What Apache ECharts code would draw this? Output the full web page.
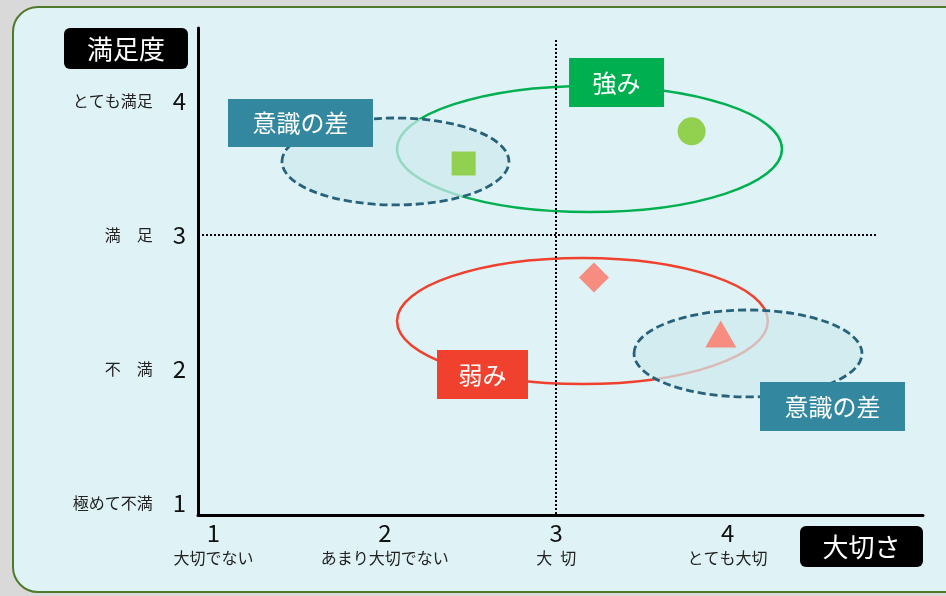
<!DOCTYPE html>
<html>
<head>
<meta charset="utf-8">
<script src="https://cdn.jsdelivr.net/npm/echarts@6/dist/echarts.min.js"></script>
<style>
  html, body { margin: 0; padding: 0; background: #d9d9d9; overflow: hidden; }
  #wrap { position: relative; width: 946px; height: 596px; overflow: hidden; }
  #panel {
    position: absolute; left: 12px; top: 6px; width: 980px; height: 587px;
    background: #dff3f6; border: 2px solid #4f7a2c; border-radius: 26px; box-sizing: border-box;
  }
  #chart { position: absolute; left: 0; top: 0; width: 946px; height: 596px; }
</style>
</head>
<body>
<div id="wrap">
  <div id="panel"></div>
  <div id="chart"></div>
</div>
<script>
// Tick values and their descriptions
const xTicks = [1, 2, 3, 4];
const xTickNames = ['大切でない', 'あまり大切でない', '大\u2002切', 'とても大切'];
const yTicks = [1, 2, 3, 4];
const yTickNames = ['極めて不満', '不　満', '満　足', 'とても満足'];

// Items as [importance, satisfaction]
const strongCircle = [[3.79, 3.77]];
const strongSquare = [[2.46, 3.53]];
const weakDiamond = [[3.22, 2.68]];
const weakTriangle = [[3.96, 2.26]];

// Group outlines: [centre x, centre y, radius x, radius y] in axis units
const strongZone = [[3.194, 3.638, 1.123, 0.470]];
const weakZone = [[3.153, 2.356, 1.082, 0.470]];
const gapZones = [
  [2.062, 3.545, 0.662, 0.324],
  [4.119, 2.114, 0.665, 0.324]
];

// Tags placed on the plane
const tagNames = ['強み', '弱み', '意識の差', '意識の差'];
const tagX = [3.352, 2.570, 1.508, 4.612];
const tagY = [4.134, 1.957, 3.832, 1.719];

// Quadrant dividers (axis units)
const midX = 3;
const midY = 3;

const tagStyles = [
  { color: '#00b050', size: [95, 49] },
  { color: '#ef412d', size: [91, 49] },
  { color: '#33879e', size: [145, 48] },
  { color: '#33879e', size: [145, 49] }
];

const JP = '"Noto Sans CJK JP", "Noto Sans", sans-serif';
const X_MIN = 0.91, X_MAX = 5.14, Y_MIN = 0.91, Y_MAX = 4.54;

function ellipseRenderer(style) {
  return function (params, api) {
    const c = api.coord([api.value(0), api.value(1)]);
    const s = api.size([api.value(2), api.value(3)]);
    return {
      type: 'ellipse',
      shape: { cx: c[0], cy: c[1], rx: s[0], ry: s[1] },
      style: style
    };
  };
}

const chart = echarts.init(document.getElementById('chart'), null, { renderer: 'canvas' });

chart.setOption({
  backgroundColor: 'transparent',
  animation: false,
  textStyle: { fontFamily: JP },
  grid: { left: 198, right: 23, top: 28, bottom: 81 },
  xAxis: {
    type: 'value', min: X_MIN, max: X_MAX,
    splitLine: { show: false },
    axisTick: { show: false },
    axisLine: { lineStyle: { color: '#000', width: 3 } },
    axisLabel: {
      customValues: xTicks,
      margin: 4,
      formatter: function (v) {
        return '{n|' + v + '}\n{t|' + xTickNames[xTicks.indexOf(v)] + '}';
      },
      rich: {
        n: { fontSize: 24, lineHeight: 28, color: '#111', fontFamily: JP },
        t: { fontSize: 16, lineHeight: 22, color: '#222', fontFamily: JP }
      }
    }
  },
  yAxis: {
    type: 'value', min: Y_MIN, max: Y_MAX,
    splitLine: { show: false },
    axisTick: { show: false },
    axisLine: { lineStyle: { color: '#000', width: 3 } },
    axisLabel: {
      customValues: yTicks,
      margin: 12,
      formatter: function (v) {
        return '{t|' + yTickNames[yTicks.indexOf(v)] + '}{n|' + v + '}';
      },
      rich: {
        t: { fontSize: 16, color: '#222', padding: [0, 20, 0, 0], fontFamily: JP },
        n: { fontSize: 24, color: '#111', fontFamily: JP }
      }
    }
  },
  graphic: [
    {
      type: 'group',
      children: [
        { type: 'rect', shape: { x: 64, y: 28, width: 124, height: 41, r: 6 }, style: { fill: '#000' } },
        { type: 'text', x: 126, y: 49, style: { text: '満足度', fill: '#fff', font: '26px ' + JP, align: 'center', verticalAlign: 'middle' } }
      ]
    },
    {
      type: 'group',
      children: [
        { type: 'rect', shape: { x: 800, y: 526, width: 123, height: 41, r: 6 }, style: { fill: '#000' } },
        { type: 'text', x: 861.5, y: 547, style: { text: '大切さ', fill: '#fff', font: '26px ' + JP, align: 'center', verticalAlign: 'middle' } }
      ]
    }
  ],
  series: [
    {
      // quadrant dividers
      type: 'line', data: [], z: 1, silent: true,
      markLine: {
        silent: true, symbol: ['none', 'none'], animation: false,
        label: { show: false },
        lineStyle: { color: '#000', width: 2, type: [2, 2] },
        data: [
          [{ coord: [midX, 4.45] }, { coord: [midX, Y_MIN] }],
          [{ coord: [X_MIN, midY] }, { coord: [4.877, midY] }]
        ]
      }
    },
    {
      type: 'custom', z: 2, silent: true,
      encode: { x: 0, y: 1 },
      renderItem: ellipseRenderer({ fill: 'none', stroke: '#00b050', lineWidth: 2.5 }),
      data: strongZone
    },
    {
      type: 'custom', z: 2, silent: true,
      encode: { x: 0, y: 1 },
      renderItem: ellipseRenderer({ fill: 'none', stroke: '#ef412d', lineWidth: 2.5 }),
      data: weakZone
    },
    {
      type: 'custom', z: 3, silent: true,
      encode: { x: 0, y: 1 },
      renderItem: ellipseRenderer({ fill: 'rgba(206,233,237,0.72)', stroke: '#27627a', lineWidth: 2.8, lineDash: [8, 4] }),
      data: gapZones
    },
    {
      type: 'scatter', z: 4, symbol: 'circle', symbolSize: 28,
      itemStyle: { color: '#92d050', opacity: 1 }, data: strongCircle
    },
    {
      type: 'scatter', z: 4, symbol: 'rect', symbolSize: 24,
      itemStyle: { color: '#92d050', opacity: 1 }, data: strongSquare
    },
    {
      type: 'scatter', z: 4, symbol: 'diamond', symbolSize: [30, 30],
      itemStyle: { color: '#f78c80', opacity: 1 }, data: weakDiamond
    },
    {
      type: 'scatter', z: 4, symbol: 'triangle', symbolSize: [31, 27],
      itemStyle: { color: '#f78c80', opacity: 1 }, data: weakTriangle
    },
    {
      type: 'scatter', z: 5, symbol: 'rect',
      data: tagNames.map(function (name, i) {
        return {
          name: name,
          value: [tagX[i], tagY[i]],
          symbolSize: tagStyles[i].size,
          itemStyle: { color: tagStyles[i].color, opacity: 1 }
        };
      }),
      label: {
        show: true, position: 'inside', formatter: '{b}',
        color: '#fff', fontSize: 24, fontFamily: JP
      },
      emphasis: { disabled: true }
    }
  ]
});
</script>
</body>
</html>
